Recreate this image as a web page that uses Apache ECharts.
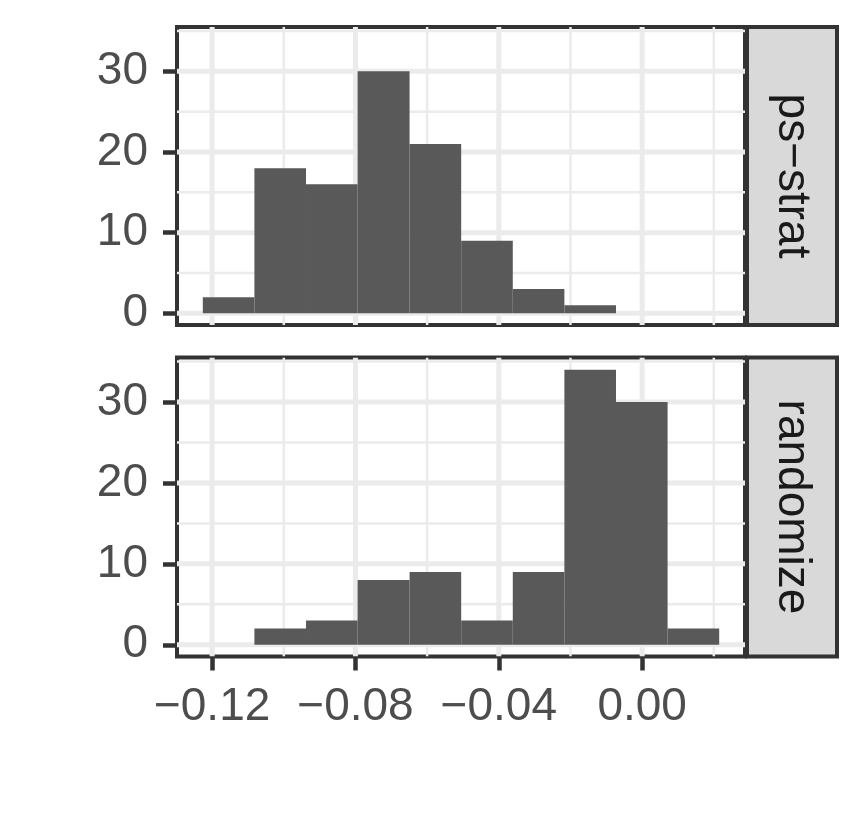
<!DOCTYPE html>
<html>
<head>
<meta charset="utf-8">
<title>ps-strat vs randomize</title>
<script src="https://cdn.jsdelivr.net/npm/echarts@6/dist/echarts.min.js"></script>
<style>
  html, body { margin: 0; padding: 0; background: #fff; }
  #chart { width: 864px; height: 827px; }
</style>
</head>
<body>
<div id="chart"></div>
<script>
// histogram bins (shared by both facets)
var binEdges = [-0.1226, -0.1082, -0.0938, -0.0794, -0.0649, -0.0505, -0.0361, -0.0217, -0.0073, 0.0071, 0.0215];
var psStratCounts = [2, 18, 16, 30, 21, 9, 3, 1, 0, 0];
var randomizeCounts = [0, 2, 3, 8, 9, 3, 9, 34, 30, 2];
var facetNames = ['ps\u2212strat', 'randomize'];

var xMajor = [-0.12, -0.08, -0.04, 0.00];
var xMinor = [-0.10, -0.06, -0.02, 0.02];
var yMajor = [0, 10, 20, 30];
var yMinor = [5, 15, 25, 35];

var FONT = 'Liberation Sans, Arial, sans-serif';
var X_MIN = -0.1298, X_MAX = 0.0287;
var Y_MIN = -1.45, Y_MAX = 35.5;
var panels = [
  {top: 27, height: 298},
  {top: 357.5, height: 299}
];

function binData(counts) {
  var out = [];
  for (var i = 0; i < counts.length; i++) {
    out.push([binEdges[i], binEdges[i + 1], counts[i]]);
  }
  return out;
}

// one row per grid line: [x, y, vertical?, major?]
function gridData() {
  var d = [];
  xMinor.forEach(function (v) { d.push([v, Y_MIN, 1, 0]); });
  yMinor.forEach(function (v) { d.push([X_MIN, v, 0, 0]); });
  xMajor.forEach(function (v) { d.push([v, Y_MIN, 1, 1]); });
  yMajor.forEach(function (v) { d.push([X_MIN, v, 0, 1]); });
  return d;
}

function renderGrid(params, api) {
  var cs = params.coordSys;
  var p = api.coord([api.value(0), api.value(1)]);
  var w = api.value(3) ? 5 : 2.5;
  var shape = api.value(2)
    ? {x1: p[0], y1: cs.y, x2: p[0], y2: cs.y + cs.height}
    : {x1: cs.x, y1: p[1], x2: cs.x + cs.width, y2: p[1]};
  return {type: 'line', shape: shape, style: {stroke: '#ebebeb', lineWidth: w}};
}

function renderBar(params, api) {
  var p0 = api.coord([api.value(0), 0]);
  var p1 = api.coord([api.value(1), api.value(2)]);
  return {
    type: 'rect',
    shape: {x: p0[0], y: p1[1], width: p1[0] - p0[0], height: p0[1] - p1[1]},
    style: {fill: '#595959'}
  };
}

var fmtX = function (v) {
  return v.toFixed(2).replace('-', '\u2212');
};

var option = {
  backgroundColor: '#fff',
  animation: false,
  grid: panels.map(function (p) {
    return {left: 177, top: p.top, width: 568, height: p.height, show: true,
      borderColor: '#333', borderWidth: 4, backgroundColor: 'transparent'};
  }),
  xAxis: panels.map(function (p, i) {
    return {
      type: 'value', gridIndex: i, min: X_MIN, max: X_MAX, position: 'bottom',
      axisLine: {show: false, onZero: false},
      splitLine: {show: false},
      axisTick: {show: i === 1, customValues: xMajor, length: 14, lineStyle: {color: '#333', width: 4.5}},
      axisLabel: {show: i === 1, customValues: xMajor, formatter: fmtX, margin: 28,
        color: '#4d4d4d', fontSize: 46, fontFamily: FONT}
    };
  }),
  yAxis: panels.map(function (p, i) {
    return {
      type: 'value', gridIndex: i, min: Y_MIN, max: Y_MAX, position: 'left',
      axisLine: {show: false, onZero: false},
      splitLine: {show: false},
      axisTick: {show: true, customValues: yMajor, length: 14, lineStyle: {color: '#333', width: 4.5}},
      axisLabel: {show: true, customValues: yMajor, margin: 29,
        color: '#4d4d4d', fontSize: 46, fontFamily: FONT}
    };
  }),
  series: [
    {type: 'custom', xAxisIndex: 0, yAxisIndex: 0, z: 1, clip: true, silent: true,
      encode: {x: 0, y: 1}, data: gridData(), renderItem: renderGrid},
    {type: 'custom', xAxisIndex: 1, yAxisIndex: 1, z: 1, clip: true, silent: true,
      encode: {x: 0, y: 1}, data: gridData(), renderItem: renderGrid},
    {type: 'custom', name: facetNames[0], xAxisIndex: 0, yAxisIndex: 0, z: 2,
      encode: {x: [0, 1], y: 2}, data: binData(psStratCounts), renderItem: renderBar},
    {type: 'custom', name: facetNames[1], xAxisIndex: 1, yAxisIndex: 1, z: 2,
      encode: {x: [0, 1], y: 2}, data: binData(randomizeCounts), renderItem: renderBar}
  ],
  graphic: []
};

// facet strips on the right
panels.forEach(function (p, i) {
  option.graphic.push({
    type: 'rect', z: 10,
    shape: {x: 747, y: p.top, width: 90, height: p.height},
    style: {fill: '#d9d9d9', stroke: '#333', lineWidth: 4}
  });
  option.graphic.push({
    type: 'text', z: 11,
    x: 791.5, y: p.top + p.height / 2, rotation: -Math.PI / 2,
    style: {text: facetNames[i], fill: '#1a1a1a', font: '46px ' + FONT,
      align: 'center', verticalAlign: 'middle'}
  });
});

var chart = echarts.init(document.getElementById('chart'));
chart.setOption(option);
</script>
</body>
</html>
